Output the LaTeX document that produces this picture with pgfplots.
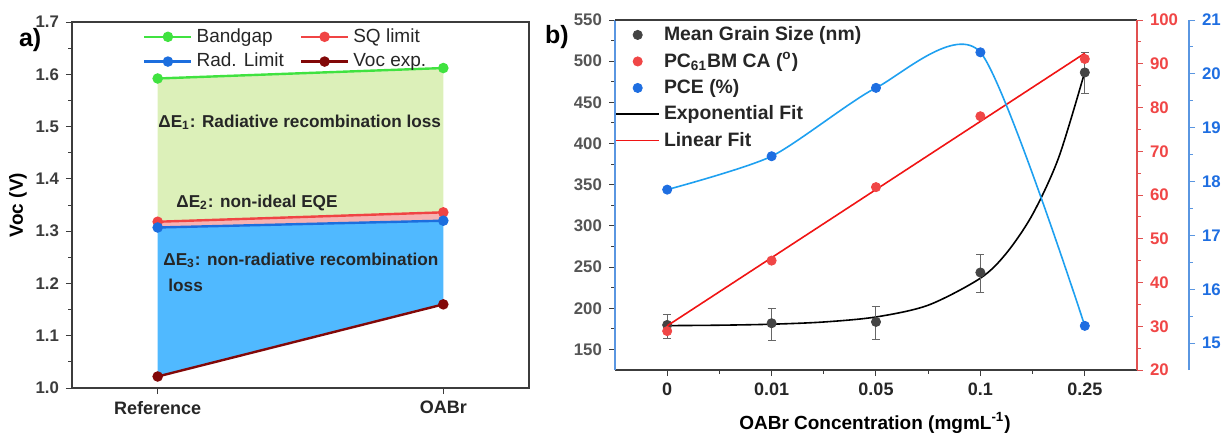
\documentclass[border=0pt]{standalone}
\usepackage{fontspec}
\setmainfont{Liberation Sans}
\usepackage{pgfplots}
\pgfplotsset{compat=1.18}

\definecolor{gapgreen}{RGB}{64,226,64}
\definecolor{sqred}{RGB}{240,68,68}
\definecolor{radblue}{RGB}{28,110,222}
\definecolor{vocred}{RGB}{130,8,8}
\definecolor{fillgreen}{RGB}{220,240,185}
\definecolor{fillpink}{RGB}{246,178,178}
\definecolor{fillblue}{RGB}{80,185,255}
\definecolor{axgray}{RGB}{60,60,60}
\definecolor{ticklab}{RGB}{85,85,85}
\definecolor{grainc}{RGB}{68,68,68}
\definecolor{caRed}{RGB}{240,70,70}
\definecolor{fitRed}{RGB}{240,20,20}
\definecolor{pceDot}{RGB}{30,110,225}
\definecolor{pceLine}{RGB}{30,160,240}
\definecolor{spineBlue}{RGB}{90,150,225}
\definecolor{redAx}{RGB}{225,80,80}

\pgfplotsset{
  panel/.style={
    scale only axis, anchor=south west,
    tick align=outside,
    major tick length=3pt, minor tick length=1.8pt,
    /pgf/number format/assume math mode=true,
    tick label style={font=\bfseries\fontsize{8.4}{10}\selectfont},
    tick style={axgray, line width=0.5pt},
  },
}

\begin{document}
\begin{tikzpicture}
\path[use as bounding box] (0,0) rectangle (611.5pt,218pt);

% ---------- a) ----------
\begin{axis}[panel,
  at={(36pt,24pt)}, width=228.5pt, height=183pt,
  xmin=-0.3, xmax=1.3, ymin=1.0, ymax=1.7,
  xtick={0,1}, xticklabels={Reference,OABr},
  ytick={1.0,1.1,1.2,1.3,1.4,1.5,1.6,1.7}, minor y tick num=1,
  tick pos=left,
  axis line style={axgray, line width=0.7pt},
  yticklabel style={color=axgray, /pgf/number format/.cd, fixed, fixed zerofill, precision=1},
  xticklabel style={font=\bfseries\fontsize{9}{10}\selectfont, color=black!85},
  legend columns=2,
  legend style={at={(0.155,1)}, anchor=north west, draw=none, fill=none,
    font=\fontsize{9.5}{11}\selectfont, text=black!85,
    inner xsep=0pt, inner ysep=1pt, row sep=0pt},
  /tikz/every even column/.append style={column sep=6pt},
  legend cell align=left,
  legend image code/.code={\draw[mark repeat=2,mark phase=2,#1] plot coordinates {(0pt,0pt)(11.75pt,0pt)(23.5pt,0pt)};},
]
\addplot[fill=fillgreen, draw=none, forget plot] coordinates {(0,1.592) (1,1.612) (1,1.336) (0,1.318)} -- cycle;
\addplot[fill=fillpink, draw=none, forget plot] coordinates {(0,1.318) (1,1.336) (1,1.320) (0,1.307)} -- cycle;
\addplot[fill=fillblue, draw=none, forget plot] coordinates {(0,1.307) (1,1.320) (1,1.160) (0,1.022)} -- cycle;

\addplot[gapgreen, line width=1.2pt, mark=*, mark size=2pt] coordinates {(0,1.592) (1,1.612)};
\addlegendentry{Bandgap}
\addplot[sqred, line width=1.2pt, mark=*, mark size=2pt] coordinates {(0,1.318) (1,1.336)};
\addlegendentry{SQ limit}
\addplot[radblue, line width=1.2pt, mark=*, mark size=2pt] coordinates {(0,1.307) (1,1.320)};
\addlegendentry{Rad. Limit}
\addplot[vocred, line width=1.2pt, mark=*, mark size=2pt] coordinates {(0,1.022) (1,1.160)};
\addlegendentry{Voc exp.}
\end{axis}

% ---------- b) grain size ----------
\begin{axis}[panel,
  at={(307.5pt,33pt)}, width=261pt, height=175pt,
  xmin=-0.5, xmax=4.5, ymin=125, ymax=550,
  axis x line*=bottom, axis y line*=left,
  x axis line style={axgray, line width=0.7pt},
  y axis line style={spineBlue, line width=0.7pt},
  xtick={0,1,2,3,4}, xticklabels={0,0.01,0.05,0.1,0.25}, minor x tick num=1,
  ytick={150,200,250,300,350,400,450,500,550}, minor y tick num=1,
  yticklabel style={color=ticklab},
  xticklabel style={font=\bfseries\fontsize{9}{10}\selectfont, color=black!85},
  legend style={at={(0,1)}, anchor=north west, draw=none, fill=none,
    font=\bfseries\fontsize{9.7}{11}\selectfont, text=black!85,
    inner xsep=0pt, inner ysep=1pt, row sep=0.6pt},
  legend cell align=left,
]
\addlegendimage{legend image code/.code={\fill[grainc] (10.75pt,0pt) circle[radius=2.3pt];}}
\addlegendentry{Mean Grain Size (nm)}
\addlegendimage{legend image code/.code={\fill[caRed] (10.75pt,0pt) circle[radius=2.3pt];}}
\addlegendentry{PC\textsubscript{61}BM CA (\textsuperscript{o})}
\addlegendimage{legend image code/.code={\fill[pceDot] (10.75pt,0pt) circle[radius=2.3pt];}}
\addlegendentry{PCE (\%)}
\addlegendimage{legend image code/.code={\draw[black, line width=0.8pt] (0pt,0pt) -- (21.5pt,0pt);}}
\addlegendentry{Exponential Fit}
\addlegendimage{legend image code/.code={\draw[fitRed, line width=0.8pt] (0pt,0pt) -- (21.5pt,0pt);}}
\addlegendentry{Linear Fit}

% exponential fit
\addplot[black, line width=0.8pt, smooth, forget plot] coordinates {
  (0,178.9) (0.5,179.4) (1,180.6) (1.5,183.3) (2,189.4) (2.5,203.7)
  (3,236.5) (3.25,267) (3.5,314) (3.75,383) (4,487)};
\addplot[only marks, mark=*, mark size=2.3pt, color=grainc, forget plot,
  error bars/.cd, y dir=both, y explicit,
  error bar style={color=black!60, line width=0.5pt},
  error mark options={rotate=90, mark size=2pt, color=black!60, line width=0.5pt}]
  coordinates {
  (0,179.7) += (0,12.3) -= (0,16.7)
  (1,181.8) += (0,18.2) -= (0,21.2)
  (2,183.4) += (0,18.2) -= (0,20.8)
  (3,243.4) += (0,21.5) -= (0,24.7)
  (4,486.3) += (0,23.7) -= (0,25.6)
  };
\end{axis}

% ---------- b) contact angle ----------
\begin{axis}[panel,
  at={(307.5pt,33pt)}, width=261pt, height=175pt,
  xmin=-0.5, xmax=4.5, ymin=20, ymax=100,
  axis x line*=top, axis y line*=right,
  xtick=\empty,
  x axis line style={axgray, line width=0.7pt},
  y axis line style={redAx, line width=0.7pt},
  ytick={20,30,40,50,60,70,80,90,100}, minor y tick num=1,
  tick style={redAx, line width=0.5pt},
  yticklabel style={color=caRed},
]
\addplot[fitRed, line width=0.8pt] coordinates {(0,30.1) (4,92.4)};
\addplot[only marks, mark=*, mark size=2.3pt, color=caRed] coordinates {
  (0,28.9) (1,45.0) (2,61.8) (3,78.0) (4,91.1)};
\end{axis}

% ---------- b) PCE ----------
\begin{axis}[panel,
  at={(307.5pt,33pt)}, width=287pt, height=175pt,
  xmin=-0.5, xmax=4.998, ymin=14.5, ymax=21,
  axis x line=none, axis y line*=right,
  y axis line style={spineBlue, line width=0.7pt},
  ytick={15,16,17,18,19,20,21}, minor y tick num=1,
  tick style={spineBlue, line width=0.5pt},
  yticklabel style={color=pceDot},
]
\addplot[pceLine, line width=0.8pt, smooth, tension=0.42] coordinates {
  (0,17.85) (1,18.47) (2,19.74) (3,20.40) (4,15.32)};
\addplot[only marks, mark=*, mark size=2.3pt, color=pceDot] coordinates {
  (0,17.85) (1,18.47) (2,19.74) (3,20.40) (4,15.32)};
\end{axis}

% labels
\node[font=\bfseries\fontsize{12.5}{14}\selectfont, anchor=west] at (6pt,198pt) {a)};
\node[font=\bfseries\fontsize{12.5}{14}\selectfont, anchor=west] at (269pt,199.5pt) {b)};
\node[font=\bfseries\fontsize{9.5}{11}\selectfont, rotate=90] at (9pt,115.5pt) {Voc (V)};
\node[font=\bfseries\fontsize{9.5}{11}\selectfont] at (437.5pt,6.5pt) {OABr Concentration (mgmL\textsuperscript{-1})};

\begin{scope}[every node/.style={font=\bfseries\fontsize{8.6}{10}\selectfont, text=black!85, anchor=west, inner sep=0pt}]
\node at (79pt,157pt) {ΔE\textsubscript{1}: Radiative recombination loss};
\node at (88pt,116.5pt) {ΔE\textsubscript{2}: non-ideal EQE};
\node at (81.5pt,88pt) {ΔE\textsubscript{3}: non-radiative recombination};
\node at (84pt,75.5pt) {loss};
\end{scope}
\end{tikzpicture}
\end{document}
